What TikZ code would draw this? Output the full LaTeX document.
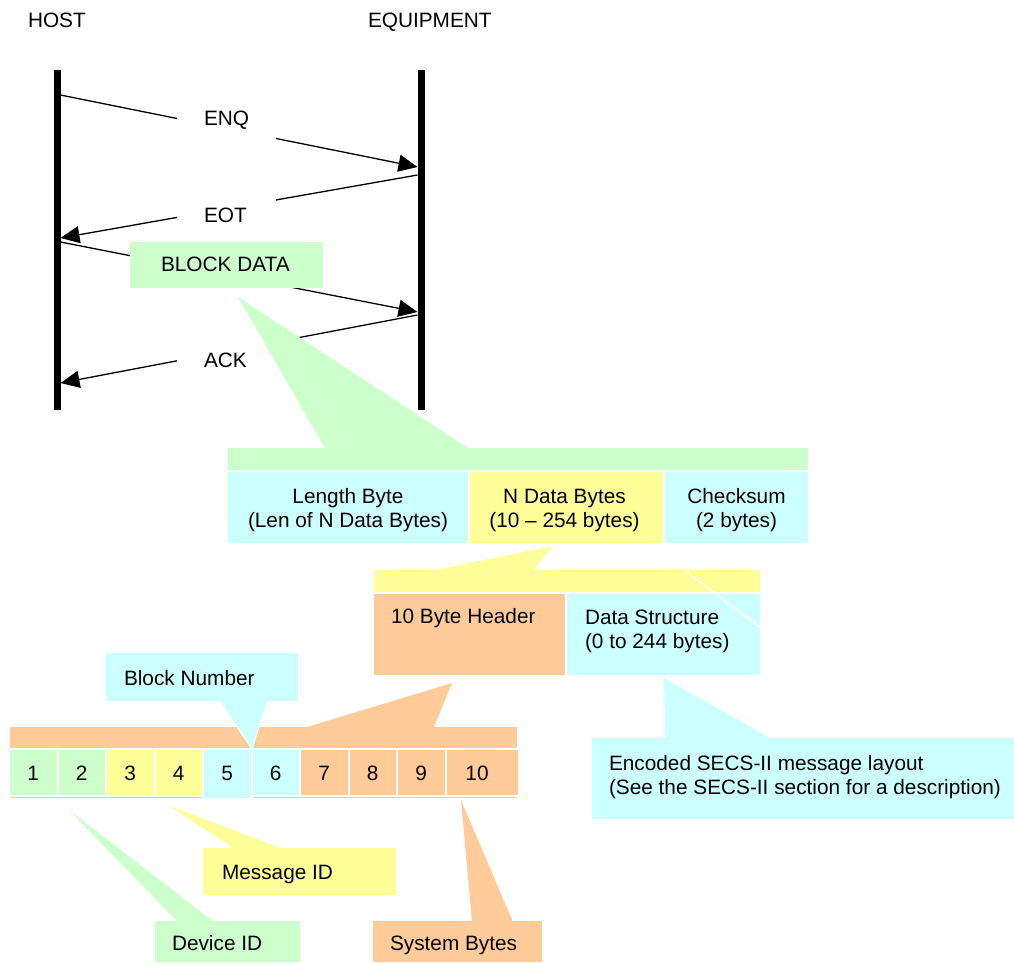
\documentclass[tikz,border=0pt]{standalone}
\usepackage{fontspec}
\setmainfont{Liberation Sans}
\usetikzlibrary{arrows.meta}
\definecolor{gC}{HTML}{CCFFCC}
\definecolor{cC}{HTML}{CCFFFF}
\definecolor{yC}{HTML}{FFFF99}
\definecolor{oC}{HTML}{FFCC99}
\begin{document}
\begin{tikzpicture}[x=1pt,y=-1pt,
  every node/.style={font=\fontsize{20.8}{24}\selectfont, inner sep=0pt, outer sep=0pt},
  txt/.style={anchor=base west},
  ctxt/.style={align=center, yshift=-3pt},
  lifeline/.style={line width=7pt},
  msg/.style={line width=1.3pt, -{Triangle[length=19pt,width=17pt]}},
  gapbox/.style={fill=white, draw=none},
  cell/.style={anchor=north west, draw=none},
  bcell/.style={anchor=north west, draw=white, line width=2pt, minimum height=47pt, minimum width=48.5pt},
]
\useasboundingbox (0,0) rectangle (1014,962);

% titles
\node[txt] (host) at (28,27) {HOST};
\node[txt] (equip) at (368,27) {EQUIPMENT};

% lifelines
\coordinate (hT) at (57,70); \coordinate (hB) at (57,410);
\coordinate (eT) at (421,70); \coordinate (eB) at (421,410);
\draw[lifeline] (hT) -- (hB);
\draw[lifeline] (eT) -- (eB);

% message end points
\coordinate (h1) at (60.5,95);   \coordinate (e1) at (417.5,167);
\coordinate (e2) at (417.5,175); \coordinate (h2) at (60.5,238);
\coordinate (h3) at (60.5,242);  \coordinate (e3) at (417.5,312);
\coordinate (e4) at (417.5,315); \coordinate (h4) at (60.5,383);
\draw[msg] (h1) -- (e1);
\draw[msg] (e2) -- (h2);
\draw[msg] (h3) -- (e3);
\draw[msg] (e4) -- (h4);

% label gaps
\node[gapbox, minimum width=99pt, minimum height=40pt] (enqgap) at (226.5,120) {};
\node[gapbox, minimum width=99pt, minimum height=40pt] (eotgap) at (226.5,212) {};
\node[gapbox, minimum width=99pt, minimum height=40pt] (ackgap) at (226.5,357) {};
\node[txt] (enq) at (204,125) {ENQ};
\node[txt] (eot) at (204,222) {EOT};
\node[txt] (ack) at (204,367) {ACK};

% block data callout
\fill[gC] (238,297) -- (325,448) -- (468,448) -- cycle;
\node[cell, fill=gC, minimum width=193pt, minimum height=46pt] (block) at (130,242) {};
\node[txt] (blocktxt) at (161,271) {BLOCK DATA};

% frame row
\node[cell, fill=gC, minimum width=580pt, minimum height=22pt] (gbar) at (228,448) {};
\node[cell, fill=cC, minimum width=240pt, minimum height=71pt] (len) at (228,472) {};
\node[cell, fill=yC, minimum width=193pt, minimum height=71pt] (ndata) at (470,472) {};
\node[cell, fill=cC, minimum width=143pt, minimum height=71pt] (chk) at (665,472) {};
\node[ctxt] (lentxt) at (len.center) {Length Byte\\(Len of N Data Bytes)};
\node[ctxt] (ndatatxt) at ([xshift=-2pt]ndata.center) {N Data Bytes\\(10 -- 254 bytes)};
\node[ctxt] (chktxt) at (chk.center) {Checksum\\(2 bytes)};

% N data callout
\fill[yC] (553,546) -- (435,570) -- (533,570) -- cycle;
\node[cell, fill=yC, minimum width=386pt, minimum height=22pt] (ybar) at (374,570) {};
\node[cell, fill=oC, minimum width=191pt, minimum height=81pt] (hdr) at (374,594) {};
\node[cell, fill=cC, minimum width=193pt, minimum height=81pt] (dstr) at (567,594) {};
\node[txt] (hdrtxt) at (391,623) {10 Byte Header};
\node[txt, align=left, anchor=north west] (dstrtxt) at (585,609.5) {Data Structure\\(0 to 244 bytes)};
\coordinate (wl1) at (684,570); \coordinate (wl2) at (760,627);
\draw[white, line width=1.5pt] (wl1) -- (wl2);

% header callout
\fill[oC] (452,683) -- (307,727) -- (434,727) -- cycle;
\fill[oC] (10,727) rectangle (517,798);
\foreach \i/\c in {1/gC,2/gC,3/yC,4/yC,6/cC,7/oC,8/oC,9/oC}{
  \node[bcell, fill=\c] (b\i) at ({10+(\i-1)*48.5-1},749) {};
  \node[anchor=base] at ({10+(\i-1)*48.5+23.25},780) {\i};
}
\node[bcell, fill=cC, minimum height=50pt] (b5) at ({10+4*48.5-1},749) {};
\node[anchor=base] at ({10+4*48.5+23.25},780) {5};
\node[bcell, fill=oC, minimum width=73pt] (b10) at ({10+9*48.5-1},749) {};
\node[anchor=base] at (477,780) {10};

% block number callout
\node[cell, fill=cC, minimum width=192pt, minimum height=48pt] (bnum) at (106,653) {};
\fill[cC] (220,700) -- (252,749) -- (267,700) -- cycle;
\draw[white, line width=1pt] (236,725) -- (252,749) -- (259,727);
\node[txt] (bnumtxt) at (124,685) {Block Number};

% encoded callout
\fill[cC] (664,678) -- (665,739) -- (772,739) -- cycle;
\node[cell, fill=cC, minimum width=422pt, minimum height=81pt] (enc) at (592,738) {};
\node[txt, align=left, anchor=north west] (enctxt) at (609,755) {Encoded SECS-II message layout\\(See the SECS-II section for a description)};

% message id
\fill[yC] (168,805) -- (235,849) -- (283,849) -- cycle;
\node[cell, fill=yC, minimum width=193pt, minimum height=47pt] (msgid) at (203,848) {};
\node[txt] (msgidtxt) at (222,879) {Message ID};

% device id
\fill[gC] (68,809) -- (178,922) -- (214,922) -- cycle;
\node[cell, fill=gC, minimum width=145pt, minimum height=41pt] (devid) at (155,921) {};
\node[txt] (devidtxt) at (172,950) {Device ID};

% system bytes
\fill[oC] (461,800) -- (472,922) -- (513,922) -- cycle;
\node[cell, fill=oC, minimum width=169pt, minimum height=41pt] (sysb) at (373,921) {};
\node[txt] (sysbtxt) at (390,950) {System Bytes};
\end{tikzpicture}
\end{document}
